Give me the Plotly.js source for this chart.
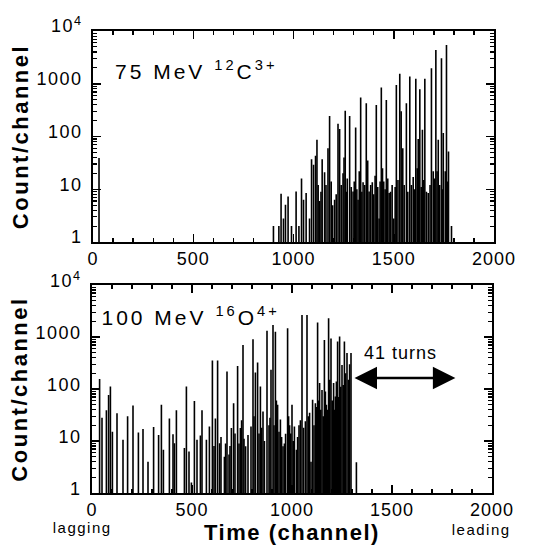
<!DOCTYPE html>
<html><head><meta charset="utf-8">
<script src="https://cdn.plot.ly/plotly-3.0.1.min.js"></script>
<style>
body{margin:0;background:#fff}
#chart{width:542px;height:546px}
.ytitle,.y2title{letter-spacing:2.5px}
.x2title{letter-spacing:1.5px}
.ytick text,.y2tick text{letter-spacing:1.5px}
.xtick text,.x2tick text{letter-spacing:1px}
g.annotation[data-index="0"] text, g.annotation[data-index="1"] text{letter-spacing:3px}
g.annotation[data-index="2"] text{letter-spacing:1px}
g.annotation[data-index="4"] text, g.annotation[data-index="5"] text{letter-spacing:1.5px}
</style>
</head><body><div id="chart"></div>
<script>
// Top panel: 75 MeV 12C3+  (channel, count/channel)
const topChannels = [30, 900, 927, 938, 950, 960, 973, 990, 1013, 1027, 1040, 1050, 1063, 1080, 1090, 1100, 1110, 1117, 1123, 1130, 1137, 1143, 1155, 1162, 1172, 1180, 1188, 1195, 1205, 1213, 1222, 1230, 1238, 1247, 1252, 1258, 1263, 1268, 1280, 1288, 1297, 1303, 1310, 1316, 1322, 1328, 1335, 1341, 1347, 1355, 1363, 1370, 1377, 1385, 1393, 1400, 1407, 1413, 1420, 1427, 1432, 1438, 1444, 1450, 1457, 1463, 1470, 1477, 1484, 1492, 1500, 1507, 1513, 1521, 1530, 1537, 1545, 1552, 1563, 1570, 1580, 1588, 1597, 1604, 1610, 1617, 1622, 1630, 1637, 1643, 1649, 1655, 1663, 1672, 1681, 1688, 1697, 1704, 1710, 1716, 1722, 1729, 1738, 1742, 1747, 1757, 1763, 1768, 1773, 1788];
const topCounts   = [39, 2, 2, 8.2, 2.8, 5.1, 7.3, 2, 9.1, 2, 16, 6.3, 8.5, 2.8, 37, 29, 43, 87, 12, 6, 9, 37, 21, 12, 60, 246, 14, 5, 6.3, 8, 174, 138, 12, 20, 40, 307, 9, 16, 246, 11, 9.1, 14, 148, 10, 6.3, 22, 550, 9, 13.5, 12, 427, 35, 9.1, 12, 13.5, 8, 18, 397, 11, 2.8, 14, 850, 25, 14, 10, 492, 16, 8.5, 9, 12, 2.8, 11, 950, 15, 1540, 300, 60, 12, 427, 9, 1370, 12, 17, 10, 1240, 25, 90, 790, 11, 134, 15, 1240, 9, 8.5, 12, 1960, 22, 16, 4370, 22, 87, 12, 3030, 10, 116, 22, 5400, 14, 52, 2];
// Bottom panel: 100 MeV 16O4+
const bottomChannels = [38, 50, 72, 83, 92, 102, 125, 155, 178, 205, 232, 255, 280, 308, 333, 347, 357, 387, 405, 412, 422, 462, 472, 485, 497, 512, 525, 542, 550, 572, 587, 602, 610, 617, 628, 638, 645, 662, 668, 675, 685, 690, 697, 708, 715, 728, 735, 742, 748, 755, 760, 768, 780, 795, 805, 810, 817, 828, 835, 842, 848, 855, 862, 875, 885, 890, 895, 905, 910, 917, 922, 928, 935, 942, 948, 955, 962, 968, 978, 983, 988, 994, 1000, 1006, 1012, 1022, 1028, 1035, 1042, 1050, 1058, 1067, 1075, 1082, 1088, 1095, 1103, 1110, 1117, 1122, 1128, 1133, 1138, 1144, 1150, 1156, 1162, 1167, 1172, 1178, 1183, 1189, 1195, 1201, 1208, 1212, 1217, 1222, 1228, 1233, 1238, 1244, 1250, 1256, 1262, 1268, 1275, 1282, 1288, 1295, 1322];
const bottomCounts   = [155, 28, 39, 77, 112, 15, 34, 10.6, 30, 48, 14.6, 17, 4, 18.5, 13, 50, 6.8, 27, 13.5, 9.1, 39, 7.3, 112, 6.3, 1.6, 59, 10.6, 12.8, 39, 10.6, 19, 355, 8, 27, 355, 9.1, 12, 5, 9, 217, 5.5, 8, 17.7, 53, 14, 278, 9, 17.7, 25, 705, 11, 7.9, 13, 19, 910, 30, 207, 322, 14, 112, 18, 37, 10, 1320, 20, 28, 235, 1700, 20, 1260, 60, 50, 15, 26, 12, 7.9, 9, 13.8, 1470, 30, 20, 14, 50, 10, 19, 6.8, 12, 20, 25, 2650, 18, 24, 2650, 30, 35, 4, 62, 20, 53, 45, 1900, 60, 130, 40, 96, 30, 880, 90, 50, 40, 2300, 150, 940, 60, 130, 40, 72, 140, 820, 70, 1020, 110, 290, 120, 820, 200, 490, 150, 300, 490, 3.9];
// Axis labels
const yTickVals = [1, 10, 100, 1000, 10000];
const yTickText = ['1', '10', '100', '1000', '10<sup>4</sup>'];
const yMinorVals = [2, 3, 4, 5, 6, 7, 8, 9, 20, 30, 40, 50, 60, 70, 80, 90, 200, 300, 400, 500, 600, 700, 800, 900, 2000, 3000, 4000, 5000, 6000, 7000, 8000, 9000];
// Arrow span for "41 turns"
const arrowStart = 1305, arrowEnd = 1817, arrowLevel = 162;

const FONT = 'Liberation Sans, Arial, Helvetica, sans-serif';
const W = 542, H = 546;
const px = v => v / W;
const py = v => 1 - v / H;

function xAxis(domain, anchor) {
  return {
    domain: domain, anchor: anchor, range: [0, 2000],
    tickmode: 'linear', tick0: 0, dtick: 500,
    ticks: 'inside', ticklen: 8, tickwidth: 1.5, tickcolor: '#000',
    minor: {tickmode: 'linear', tick0: 0, dtick: 100, ticks: 'inside', ticklen: 4, tickwidth: 1.3, tickcolor: '#000', showgrid: false},
    showline: true, linecolor: '#000', linewidth: 1.8, mirror: 'ticks',
    showgrid: false, zeroline: false,
    tickfont: {family: FONT, size: 18, color: '#000'}
  };
}
function yAxis(domain, anchor, shift) {
  return {
    domain: domain, anchor: anchor, type: 'log', range: [0, 4],
    tickmode: 'array', tickvals: yTickVals, ticktext: yTickText,
    ticks: 'inside', ticklen: 8, tickwidth: 1.5, tickcolor: '#000',
    minor: {tickmode: 'array', tickvals: yMinorVals, ticks: 'inside', ticklen: 4, tickwidth: 1.2, tickcolor: '#000', showgrid: false},
    showline: true, linecolor: '#000', linewidth: 1.8, mirror: 'ticks',
    showgrid: false, zeroline: false, ticklabelshift: shift, ticklabelstandoff: 5,
    tickfont: {family: FONT, size: 18, color: '#000'}
  };
}

const data = [
  {type: 'bar', x: topChannels, y: topCounts, xaxis: 'x', yaxis: 'y', width: 8,
   marker: {color: '#000', line: {width: 0}}, hoverinfo: 'x+y'},
  {type: 'bar', x: bottomChannels, y: bottomCounts, xaxis: 'x2', yaxis: 'y2', width: 8,
   marker: {color: '#000', line: {width: 0}}, hoverinfo: 'x+y'}
];

const titleFont = {family: FONT, size: 22, weight: 'bold', color: '#000'};
const layout = {
  width: W, height: H, margin: {l: 0, r: 0, t: 0, b: 0},
  paper_bgcolor: '#fff', plot_bgcolor: '#fff', showlegend: false,
  font: {family: FONT, color: '#000'},
  xaxis: xAxis([px(93), px(494)], 'y'),
  yaxis: Object.assign(yAxis([py(242), py(31)], 'x', -5), {
    title: {text: 'Count/channel', font: titleFont, standoff: 2}
  }),
  xaxis2: Object.assign(xAxis([px(92), px(492)], 'y2'), {
    title: {text: 'Time (channel)', font: titleFont, standoff: 0}
  }),
  yaxis2: Object.assign(yAxis([py(493), py(285)], 'x2', -4), {
    title: {text: 'Count/channel', font: titleFont, standoff: 2}
  }),
  annotations: [
    {text: '75 MeV <sup>12</sup>C<sup>3+</sup>', xref: 'paper', yref: 'paper', x: px(196), y: py(70),
     xanchor: 'center', yanchor: 'middle', showarrow: false, font: {family: FONT, size: 21}},
    {text: '100 MeV <sup>16</sup>O<sup>4+</sup>', xref: 'paper', yref: 'paper', x: px(190), y: py(316),
     xanchor: 'center', yanchor: 'middle', showarrow: false, font: {family: FONT, size: 21}},
    {text: '41 turns', xref: 'x2', yref: 'y2', x: 1542, y: Math.log10(490),
     xanchor: 'center', yanchor: 'middle', showarrow: false, font: {family: FONT, size: 18}},
    {text: '', xref: 'x2', yref: 'y2', axref: 'x2', ayref: 'y2',
     x: arrowEnd, y: Math.log10(arrowLevel), ax: arrowStart, ay: Math.log10(arrowLevel),
     showarrow: true, arrowhead: 2, startarrowhead: 2, arrowside: 'end+start',
     arrowsize: 1.8, startarrowsize: 1.8, arrowwidth: 2.5, arrowcolor: '#000'},
    {text: 'lagging', xref: 'paper', yref: 'paper', x: px(82), y: py(527),
     xanchor: 'center', yanchor: 'middle', showarrow: false, font: {family: FONT, size: 15}},
    {text: 'leading', xref: 'paper', yref: 'paper', x: px(481), y: py(529),
     xanchor: 'center', yanchor: 'middle', showarrow: false, font: {family: FONT, size: 15}}
  ]
};

Plotly.newPlot('chart', data, layout, {displayModeBar: false, staticPlot: true});
</script></body></html>
